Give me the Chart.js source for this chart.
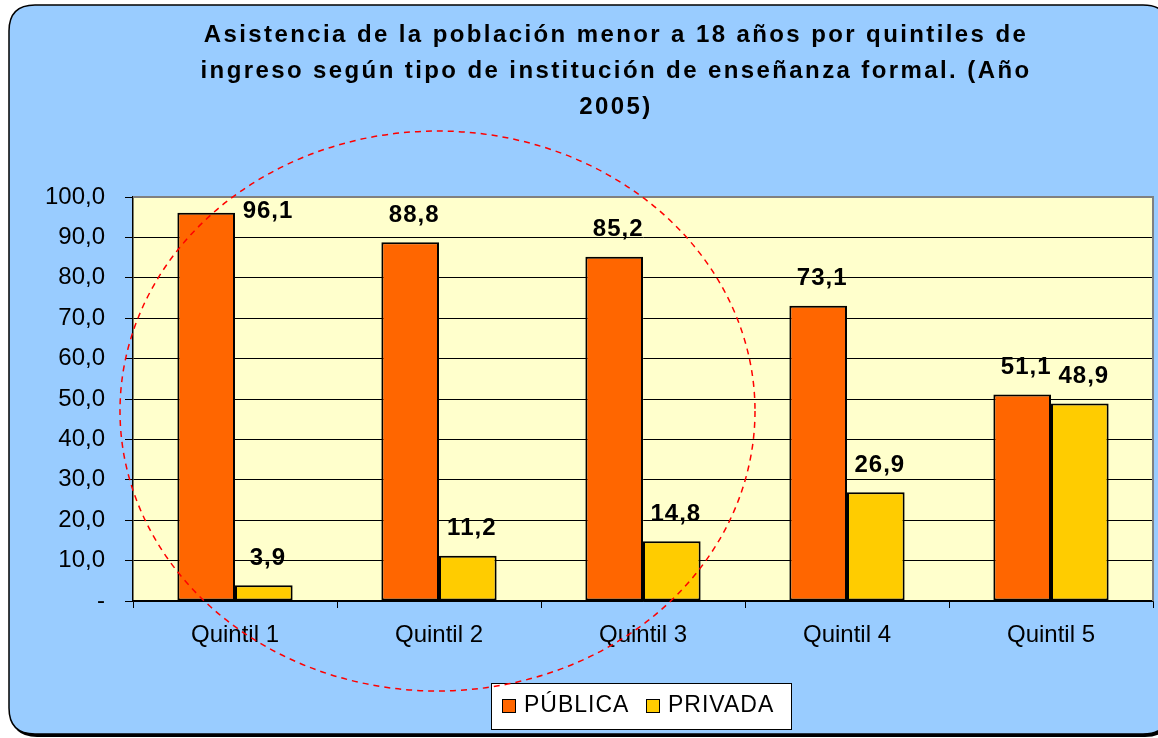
<!DOCTYPE html>
<html>
<head>
<meta charset="utf-8">
<script src="https://cdn.jsdelivr.net/npm/chart.js@4.4.1/dist/chart.umd.min.js"></script>
<style>
  html, body { margin: 0; padding: 0; background: #ffffff; }
  #chart { display: block; }
</style>
</head>
<body>
<canvas id="chart" width="1158" height="738"></canvas>
<script>
let categories = ["Quintil 1", "Quintil 2", "Quintil 3", "Quintil 4", "Quintil 5"];
let publica = [96.1, 88.8, 85.2, 73.1, 51.1];
let privada = [3.9, 11.2, 14.8, 26.9, 48.9];
let seriesNames = ["PÚBLICA", "PRIVADA"];
let titleLines = [
  "Asistencia de la población menor a 18 años por quintiles de",
  "ingreso según tipo de institución de enseñanza formal. (Año",
  "2005)",
];

const FONT = "'Liberation Sans', Arial, sans-serif";
const colors = {
  panel: "#99ccff",
  plot: "#ffffcc",
  orange: "#ff6600",
  yellow: "#ffcc00",
};

function fmt(v) {
  if (v === 0) return "-";
  return v.toFixed(1).replace(".", ",");
}

function roundRect(ctx, x, y, w, h, r) {
  ctx.beginPath();
  ctx.moveTo(x + r, y);
  ctx.lineTo(x + w - r, y);
  ctx.quadraticCurveTo(x + w, y, x + w, y + r);
  ctx.lineTo(x + w, y + h - r);
  ctx.quadraticCurveTo(x + w, y + h, x + w - r, y + h);
  ctx.lineTo(x + r, y + h);
  ctx.quadraticCurveTo(x, y + h, x, y + h - r);
  ctx.lineTo(x, y + r);
  ctx.quadraticCurveTo(x, y, x + r, y);
  ctx.closePath();
}

// background panel, plot fill, title
let backgroundPlugin = {
  id: "background",
  beforeDraw(chart) {
    let ctx = chart.ctx;
    let a = chart.chartArea;
    ctx.save();
    // shadow
    roundRect(ctx, 11, 8, 1160, 729, 26);
    ctx.fillStyle = "#000000";
    ctx.fill();
    roundRect(ctx, 9, 5, 1160, 729, 26);
    ctx.fillStyle = colors.panel;
    ctx.fill();
    ctx.lineWidth = 1.5;
    ctx.strokeStyle = "#000000";
    ctx.stroke();

    ctx.fillStyle = colors.plot;
    ctx.fillRect(a.left, a.top, a.right - a.left, a.bottom - a.top);

    ctx.fillStyle = "#000000";
    ctx.font = "bold 24px " + FONT;
    ctx.letterSpacing = "2.4px";
    ctx.textAlign = "center";
    ctx.textBaseline = "middle";
    let ys = [35, 71, 107];
    titleLines.forEach((t, i) => ctx.fillText(t, 616, ys[i]));
    ctx.restore();
  },
  afterDatasetsDraw(chart) {
    let ctx = chart.ctx;
    let a = chart.chartArea;
    ctx.save();
    // grey border at top and right of the plot
    ctx.strokeStyle = "#808080";
    ctx.lineWidth = 2;
    ctx.beginPath();
    ctx.moveTo(a.left, a.top);
    ctx.lineTo(a.right, a.top);
    ctx.lineTo(a.right, a.bottom);
    ctx.stroke();

    // data labels
    ctx.fillStyle = "#000000";
    ctx.font = "bold 24px " + FONT;
    ctx.letterSpacing = "1px";
    ctx.textAlign = "center";
    ctx.textBaseline = "middle";
    chart.data.datasets.forEach((ds, di) => {
      let meta = chart.getDatasetMeta(di);
      meta.data.forEach((bar, i) => {
        let x = bar.x + 4;
        let y = bar.y - 27;
        if (y < a.top + 10) {
          // no room above: Excel pushes it beside the bar
          x = bar.x + bar.width / 2 + 33;
          y = bar.y - 1;
        }
        ctx.fillText(fmt(ds.data[i]), x, y);
      });
    });

    // legend box
    ctx.fillStyle = "#ffffff";
    ctx.fillRect(491, 683, 300, 46);
    ctx.strokeStyle = "#000000";
    ctx.lineWidth = 1;
    ctx.strokeRect(491.5, 683.5, 300, 46);
    ctx.font = "23px " + FONT;
    ctx.letterSpacing = "1px";
    ctx.textAlign = "left";
    let items = [
      { x: 502, color: colors.orange, text: seriesNames[0] },
      { x: 646, color: colors.yellow, text: seriesNames[1] },
    ];
    items.forEach((it) => {
      ctx.fillStyle = it.color;
      ctx.fillRect(it.x, 699, 13, 13);
      ctx.strokeRect(it.x + 0.5, 699.5, 13, 13);
      ctx.fillStyle = "#000000";
      ctx.fillText(it.text, it.x + 22, 706);
    });

    // red dashed ellipse annotation
    ctx.strokeStyle = "#ff0000";
    ctx.lineWidth = 1.5;
    ctx.setLineDash([6, 5]);
    ctx.beginPath();
    ctx.ellipse(437.5, 411, 317.5, 280, 0, 0, Math.PI * 2);
    ctx.stroke();
    ctx.restore();
  },
};

new Chart("chart", {
  type: "bar",
  data: {
    labels: categories,
    datasets: [
      {
        label: seriesNames[0],
        data: publica,
        backgroundColor: colors.orange,
        borderColor: "#000000",
        borderWidth: 2,
        borderSkipped: false,
        barPercentage: 1,
        categoryPercentage: 0.565,
      },
      {
        label: seriesNames[1],
        data: privada,
        backgroundColor: colors.yellow,
        borderColor: "#000000",
        borderWidth: 2,
        borderSkipped: false,
        barPercentage: 1,
        categoryPercentage: 0.565,
      },
    ],
  },
  options: {
    responsive: false,
    animation: false,
    layout: {
      padding: { left: 0, right: 5, top: 197, bottom: 0 },
    },
    plugins: {
      legend: { display: false },
      title: { display: false },
      tooltip: { enabled: false },
    },
    scales: {
      x: {
        afterFit(scale) {
          scale.height = 137;
        },
        ticks: {
          color: "#000000",
          font: { family: FONT, size: 24 },
          padding: 13,
        },
        grid: {
          offset: true,
          drawOnChartArea: false,
          drawTicks: true,
          tickLength: 7,
          color: "#000000",
        },
        border: { color: "#000000", width: 1.5 },
      },
      y: {
        min: 0,
        max: 100,
        afterFit(scale) {
          scale.width = 133;
        },
        ticks: {
          stepSize: 10,
          color: "#000000",
          font: { family: FONT, size: 24 },
          padding: 20,
          callback: (v) => fmt(v),
        },
        grid: {
          color: "#000000",
          lineWidth: 1,
          tickLength: 8,
        },
        border: { color: "#000000", width: 1.5 },
      },
    },
  },
  plugins: [backgroundPlugin],
});
</script>
</body>
</html>
